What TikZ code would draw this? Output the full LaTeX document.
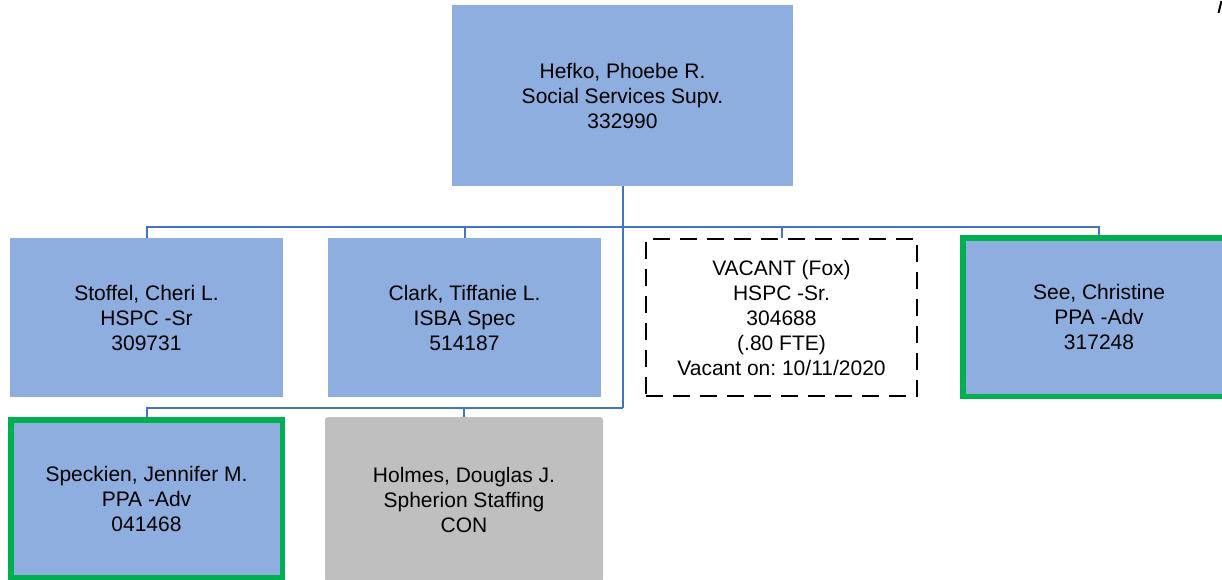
\documentclass[tikz,border=0pt]{standalone}
\usepackage{fontspec}
\setmainfont{Liberation Sans}
\frenchspacing
\definecolor{boxblue}{HTML}{8EAEDF}
\definecolor{boxgray}{HTML}{BFBFBF}
\definecolor{lineblue}{HTML}{4472C4}
\definecolor{bordergreen}{HTML}{00B050}
\tikzset{
  orgbox/.style={rectangle, inner sep=0pt, align=center, font=\fontsize{21}{25}\selectfont, text=black},
  bluebox/.style={orgbox, fill=boxblue},
  greenbox/.style={orgbox, fill=boxblue, draw=bordergreen, line width=5.5pt},
  graybox/.style={orgbox, fill=boxgray, rounded corners=3pt},
  vacantbox/.style={orgbox, fill=white, draw=black, line width=2.8pt, dash pattern=on 17pt off 10pt},
  conn/.style={draw=lineblue, line width=2pt}
}
\begin{document}
\begin{tikzpicture}[x=1pt, y=-1pt]
\useasboundingbox (0,0) rectangle (1222,580);
\clip (0,0) rectangle (1222,580);
\node[bluebox, minimum width=341pt, minimum height=181pt] (top) at (622.5,95.5)
  {Hefko, Phoebe R.\\Social Services Supv.\\332990};
\node[bluebox, minimum width=273pt, minimum height=159pt] (stoffel) at (146.5,317.5)
  {Stoffel, Cheri L.\\HSPC -Sr\\309731};
\node[bluebox, minimum width=273pt, minimum height=159pt] (clark) at (464.5,317.5)
  {Clark, Tiffanie L.\\ISBA Spec\\514187};
\node[vacantbox, minimum width=271pt, minimum height=157pt] (vacant) at (781.5,317.5)
  {VACANT (Fox)\\HSPC -Sr.\\304688\\(.80 FTE)\\Vacant on: 10/11/2020};
\node[greenbox, minimum width=272.5pt, minimum height=158.5pt] (see) at (1099,317)
  {See, Christine\\PPA -Adv\\317248};
\node[greenbox, minimum width=271.5pt, minimum height=157.5pt] (speck) at (146.5,498.5)
  {Speckien, Jennifer M.\\PPA -Adv\\041468};
\node[graybox, minimum width=278pt, minimum height=165pt] (holmes) at (464,499.5)
  {Holmes, Douglas J.\\Spherion Staffing\\CON};
\coordinate (j1) at (622.5,227);
\coordinate (j2) at (622.5,408);
\draw[conn] (top.south) -- (j2);
\draw[conn] (j1) -| (stoffel.north);
\draw[conn] (j1) -| (clark.north);
\draw[conn] (j1) -| (vacant.north);
\draw[conn] (j1) -| (see.north);
\draw[conn] (j2) -| (speck.north);
\draw[conn] (j2) -| (holmes.north);
\draw[black, line width=2pt] (1221.5,1) -- (1218.5,13);
\end{tikzpicture}
\end{document}
